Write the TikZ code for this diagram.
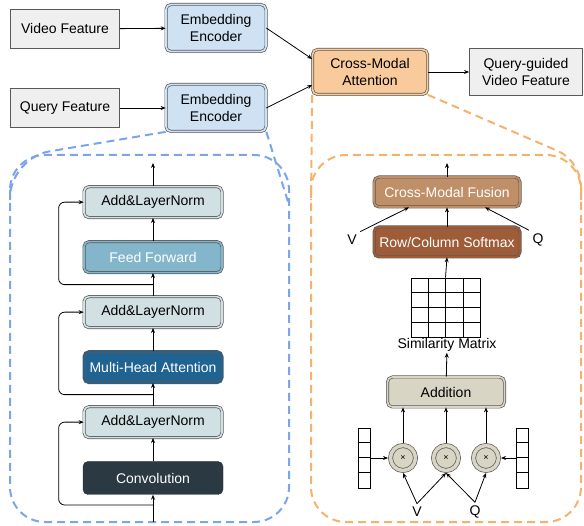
\documentclass[tikz,border=0pt]{standalone}
\usepackage{fontspec}
\setmainfont{Liberation Sans}
\usepackage{tikz}
\usetikzlibrary{arrows.meta,positioning,chains,calc}
\definecolor{featgray}{HTML}{EFEFEF}
\definecolor{encblue}{HTML}{CFE2F3}
\definecolor{cmaorange}{HTML}{F9CB9C}
\definecolor{alngray}{HTML}{D0E0E3}
\definecolor{ffblue}{HTML}{84B6CB}
\definecolor{mhablue}{HTML}{1F6393}
\definecolor{convdark}{HTML}{2B3A42}
\definecolor{fusebrown}{HTML}{BF8F68}
\definecolor{softbrown}{HTML}{9E5D38}
\definecolor{addbeige}{HTML}{D9D5C4}
\definecolor{darkline}{HTML}{595959}
\definecolor{dashblue}{HTML}{7AA5E6}
\definecolor{dashorange}{HTML}{F6B26B}

\begin{document}
\begin{tikzpicture}[x=1pt,y=-1pt,
  every node/.style={font=\fontsize{14}{16.5}\selectfont},
  featbox/.style={draw=darkline,line width=0.8pt,fill=featgray,align=center,
    minimum width=109pt,minimum height=39pt},
  dbox/.style={draw=darkline,line width=0.7pt,double=#1,double distance=1.6pt,
    fill=#1,rounded corners=5pt,align=center},
  encbox/.style={dbox=encblue,minimum width=100pt,minimum height=47pt},
  alnbox/.style={dbox=alngray,minimum width=138pt,minimum height=31pt},
  ffbox/.style={dbox=ffblue,text=white,minimum width=138pt,minimum height=31pt},
  mhabox/.style={dbox=mhablue,text=white,minimum width=138pt,minimum height=31pt},
  convbox/.style={draw=convdark!80!black,fill=convdark,text=white,rounded corners=5pt,
    minimum width=140pt,minimum height=33pt},
  fusebox/.style={dbox=#1,text=white,minimum width=146pt,minimum height=30pt},
  mulnode/.style={circle,draw=darkline,line width=0.7pt,fill=addbeige,double=addbeige,
    double distance=3.5pt,minimum size=25pt,inner sep=0pt,outer sep=2.5pt,
    font=\fontsize{9}{10}\selectfont},
  vecbox/.style={draw,line width=0.7pt,minimum width=12pt,minimum height=60pt,inner sep=0pt},
  arr/.style={-{Stealth[length=5pt,width=4pt]},line width=0.8pt},
  bluedash/.style={draw=dashblue,line width=2pt,dash pattern=on 8pt off 5pt},
  orangedash/.style={draw=dashorange,line width=2pt,dash pattern=on 8pt off 5pt}
]
\useasboundingbox (0,0) rectangle (584,526);

% top row
\node[featbox] (vfeat) at (65,29) {Video Feature};
\node[featbox] (qfeat) at (65,108) {Query Feature};
\node[encbox] (enc1) at (216,28) {Embedding\\Encoder};
\node[encbox] (enc2) at (216,108) {Embedding\\Encoder};
\node[dbox=cmaorange,minimum width=115pt,minimum height=45pt] (cma) at (370,72) {Cross-Modal\\Attention};
\node[featbox,minimum width=113pt,minimum height=47pt] (qvf) at (526,72) {Query-guided\\Video Feature};

\draw[arr] (vfeat) -- (enc1);
\draw[arr] (qfeat) -- (enc2);
\draw[arr] (enc1.east) -- ([yshift=13pt]cma.west);
\draw[arr] (enc2.east) -- ([yshift=-13pt]cma.west);
\draw[arr] (cma) -- (qvf);

% the encoder
\draw[bluedash,rounded corners=35pt] (10,155) rectangle (289,522);
\draw[bluedash,rounded corners=40pt] (enc2.south west) -- (10,158) -- (10,200);
\draw[bluedash] (enc2.south east) -- (289,205);

\begin{scope}[start chain=going above,node distance=23.3pt]
\node[convbox,on chain] (conv) at (153,478) {Convolution};
\foreach \nm/\st/\tx in {aln3/alnbox/{Add\&LayerNorm},mha/mhabox/{Multi-Head Attention},
    aln2/alnbox/{Add\&LayerNorm},ff/ffbox/{Feed Forward},aln1/alnbox/{Add\&LayerNorm}}
  \node[\st,on chain] (\nm) {\tx};
\end{scope}

\coordinate (encin) at (153,522);
\coordinate (encout) at (153,163);
\draw[arr] (encin) -- (conv);
\foreach \a/\b in {conv/aln3,aln3/mha,mha/aln2,aln2/ff,ff/aln1}
  \draw[arr] (\a) -- (\b);
\draw[arr] (aln1) -- (encout);

% residuals
\draw[arr,rounded corners=6pt] (153,505) -| ([xshift=-25pt]aln3.west) -- (aln3.west);
\draw[arr,rounded corners=6pt] ($(aln3.north)!0.5!(mha.south)$) -| ([xshift=-25pt]aln2.west) -- (aln2.west);
\draw[arr,rounded corners=6pt] ($(aln2.north)!0.5!(ff.south)$) -| ([xshift=-25pt]aln1.west) -- (aln1.west);

% the cross-modal attention
\draw[orangedash,rounded corners=35pt] (311,155) rectangle (581,522);
\draw[orangedash] (cma.south west) -- (311,200);
\draw[orangedash,rounded corners=25pt] (cma.south east) -- (581,161) -- (581,200);

\node[fusebox=fusebrown] (fusion) at (447,192) {Cross-Modal Fusion};
\node[fusebox=softbrown] (softmax) at (447,242) {Row/Column Softmax};
\node (vup) at (352,240) {V};
\node (qup) at (538,240) {Q};
\coordinate (cmaout) at (447,163);
\draw[arr] (fusion) -- (cmaout);
\draw[arr] (softmax) -- (fusion);
\draw[arr] (vup.north east) -- ([xshift=-38pt]fusion.south);
\draw[arr] (qup.north west) -- ([xshift=38pt]fusion.south);

\node[draw,line width=0.7pt,minimum width=69pt,minimum height=59pt,inner sep=0pt] (simmat) at (445.5,307.5) {};
\foreach \k in {1,2,3} {
  \draw[line width=0.7pt] ($(simmat.north west)!\k/4!(simmat.north east)$) -- ($(simmat.south west)!\k/4!(simmat.south east)$);
  \draw[line width=0.7pt] ($(simmat.north west)!\k/4!(simmat.south west)$) -- ($(simmat.north east)!\k/4!(simmat.south east)$);
}
\draw[arr] (simmat.north) -- (softmax.south);
\node[inner sep=1pt] (simlbl) at (447,345) {Similarity Matrix};

\node[dbox=addbeige,minimum width=117pt,minimum height=30pt] (addition) at (446,392) {Addition};
\draw[arr] (addition) -- (simlbl);

\node[mulnode] (c1) at (403,458) {×};
\node[mulnode] (c2) at (446,458) {×};
\node[mulnode] (c3) at (486,458) {×};
\foreach \c in {c1,c2,c3}
  \draw[arr] (\c) -- (\c |- addition.south);

\node[vecbox] (vecl) at (364,458) {};
\node[vecbox] (vecr) at (522.5,458) {};
\foreach \v in {vecl,vecr}
  \foreach \k in {1,2,3}
    \draw[line width=0.7pt] ([yshift=-\k*15pt]\v.north west) -- ([yshift=-\k*15pt]\v.north east);
\draw[arr] (vecl) -- (c1);
\draw[arr] (vecr) -- (c3);

\node (vlow) at (417,512) {V};
\node (qlow) at (475,512) {Q};
\draw[arr] (vlow.north) -- (c1.south);
\draw[arr] (vlow.north) -- (c2.south);
\draw[arr] (qlow.north) -- (c2.south);
\draw[arr] (qlow.north) -- (c3.south);

\end{tikzpicture}
\end{document}
